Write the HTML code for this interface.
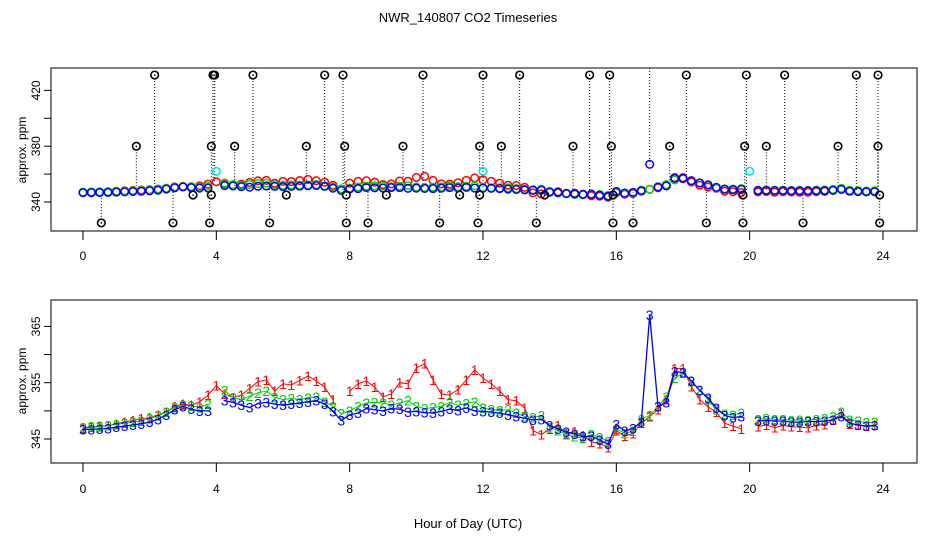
<!DOCTYPE html>
<html><head><meta charset="utf-8"><style>
body{margin:0;background:#fff}
svg{display:block;font-family:"Liberation Sans",sans-serif}
</style></head><body>
<svg id="c" width="936" height="540" viewBox="0 0 936 540">
<text x="468" y="22" text-anchor="middle" font-size="13">NWR_140807  CO2 Timeseries</text>
<text x="468" y="528" text-anchor="middle" font-size="13">Hour of Day (UTC)</text>
</svg>
<script>
const hourStep = 0.25;
const series1 = [346.9,347.1,347.2,347.4,347.7,348.0,348.3,348.6,348.8,349.3,349.8,350.8,351.2,351.0,351.6,352.8,354.5,353.0,352.4,352.8,354.0,355.2,355.5,353.5,354.8,354.6,355.4,356.2,355.3,354.2,352.0,null,353.5,354.8,355.3,354.2,352.5,353.0,355.0,354.8,357.6,358.4,355.5,353.0,352.8,353.8,355.5,357.3,355.8,354.8,353.5,352.0,351.8,350.5,346.5,345.8,346.8,347.4,346.0,346.3,345.6,344.5,344.2,343.5,346.5,345.5,346.0,347.8,349.0,350.2,352.0,357.5,357.5,354.3,352.0,350.7,349.8,347.8,347.3,346.8,null,347.2,347.5,347.0,347.4,347.2,347.1,347.0,347.4,347.6,348.4,349.5,347.7,347.5,347.3,347.5];
const series2 = [347.0,347.2,347.3,347.4,347.6,347.8,348.0,348.2,348.6,349.2,349.8,350.6,351.0,350.9,350.6,351.2,null,353.6,352.4,352.0,352.6,353.2,353.5,352.4,352.0,352.2,352.0,352.3,352.5,351.6,350.8,349.5,350.0,350.8,351.4,351.5,351.4,351.0,351.4,351.8,350.8,350.4,350.6,350.8,351.5,351.0,351.3,351.6,350.5,350.2,350.1,350.2,349.6,349.0,348.8,349.2,347.0,346.5,345.8,345.4,345.2,345.8,345.3,344.6,346.8,346.0,346.4,348.5,349.2,350.8,352.5,355.8,356.7,355.2,353.7,352.0,350.2,349.4,349.3,349.6,null,348.5,348.6,348.5,348.5,348.3,348.4,348.3,348.5,348.6,349.0,349.8,348.4,348.2,347.9,348.0];
const series3 = [346.7,346.7,346.8,346.9,347.1,347.3,347.5,347.7,348.0,348.5,349.3,350.2,350.8,350.3,350.0,350.0,null,351.8,351.5,351.0,350.6,351.3,351.5,351.2,351.0,351.2,351.4,351.6,351.8,351.2,349.9,348.3,349.3,349.6,350.4,350.2,350.0,350.4,350.3,349.8,349.9,349.7,349.6,349.9,350.3,350.1,350.5,350.0,349.9,349.8,349.6,349.3,349.0,348.7,348.4,348.5,347.4,346.8,346.2,345.9,345.4,345.5,344.8,344.1,347.6,346.4,346.9,348.0,367.0,350.8,351.5,357.0,356.8,355.3,353.6,352.3,350.5,349.2,348.8,349.0,null,348.2,348.3,348.2,348.2,348.0,348.0,348.1,348.1,348.2,348.4,349.0,347.8,347.5,347.3,347.4];
const outlierHighHours = [2.15,3.9,3.95,5.1,7.25,7.8,10.2,12,13.1,15.2,15.8,18.1,19.9,21.05,23.2,23.85];
const outlierMidHours = [1.6,3.85,4.55,6.7,7.85,9.6,11.9,12.55,14.7,15.85,17.6,19.85,20.5,22.65,23.85];
const outlierLowHours = [0.55,2.7,3.8,5.6,7.9,8.55,10.7,11.85,13.6,15.9,16.5,18.7,19.8,21.6,23.9];
const nearHours = [3.3,3.85,6.1,7.9,9.1,11.3,11.9,13.85,15.9,19.8,23.9];
const outlierHighValue = 431, outlierMidValue = 380, outlierLowValue = 325, nearValue = 345;
const cyanHours = [4.0,12.0,20.0];
const cyanValues = [362,362,362];
const xTicks = [0,4,8,12,16,20,24];
const topYTicks = [340,360,380,400,420];
const topYLabels = [340,380,420];
const botYTicks = [345,350,355,360,365];
const botYLabels = [345,355,365];

const NS="http://www.w3.org/2000/svg";
const svg=document.getElementById('c');
function mk(tag,attrs,parent){const e=document.createElementNS(NS,tag);for(const k in attrs)e.setAttribute(k,attrs[k]);(parent||svg).appendChild(e);return e;}
const xs=h=>83+h*(800/24);
const yTop=v=>202-(v-340)*1.395;
const yBot=v=>439-(v-345)*5.63;

function box(y0,y1,name){
  const r=mk('rect',{x:51,y:y0,width:866,height:y1-y0,fill:'none',stroke:'#000','stroke-width':1});
  
  
}
function xAxis(yb,ly,name){
  const g=mk('g',{});
  
  
  xTicks.forEach(t=>{
    mk('line',{x1:xs(t),x2:xs(t),y1:yb,y2:yb+9,stroke:'#000'},g);
    const tx=mk('text',{x:xs(t),y:ly,'text-anchor':'middle','font-size':12},g);
    tx.textContent=t;
  });
}
function yAxis(ticks,labels,yf,name,title,cy){
  const g=mk('g',{});
  
  
  ticks.forEach(t=>mk('line',{x1:44,x2:51,y1:yf(t),y2:yf(t),stroke:'#000'},g));
  labels.forEach(t=>{
    const tx=mk('text',{x:0,y:0,'text-anchor':'middle','font-size':12,transform:`translate(40,${yf(t)}) rotate(-90)`},g);
    tx.textContent=t;
  });
  const tt=mk('text',{x:0,y:0,'text-anchor':'middle','font-size':12,transform:`translate(26,${cy}) rotate(-90)`});
  
  
  tt.textContent=title;
}
box(68,231,'top-plot-frame');
box(300,463,'bottom-plot-frame');
xAxis(231,260,'top-x-axis');
xAxis(463,493,'bottom-x-axis');
yAxis(topYTicks,topYLabels,yTop,'top-y-axis','approx. ppm',150);
yAxis(botYTicks,botYLabels,yBot,'bottom-y-axis','approx. ppm',381);

function baseAt(h){const i=Math.round(h/hourStep);const v=series3[i]??series2[i]??series1[i];return v==null?345:v;}

const gTop=mk('g',{});


function blackPt(h,v){
  mk('line',{x1:xs(h),x2:xs(h),y1:yTop(v),y2:yTop(baseAt(h)),stroke:'#000','stroke-width':1,'stroke-dasharray':'1,2'},gTop);
}
outlierHighHours.forEach(h=>blackPt(h,outlierHighValue));
outlierMidHours.forEach(h=>blackPt(h,outlierMidValue));
outlierLowHours.forEach(h=>blackPt(h,outlierLowValue));
mk('line',{x1:xs(17),x2:xs(17),y1:68,y2:yTop(367),stroke:'#000','stroke-dasharray':'1,2'},gTop);
[[series1,'#ff0000'],[series2,'#00dd00'],[series3,'#0000ff']].forEach(([s,c],k)=>{
  s.forEach((v,i)=>{ if(v==null)return;
    const e=mk('circle',{cx:xs(i*hourStep),cy:yTop(v),r:3.8,fill:'none',stroke:c,'stroke-width':1.5},gTop);
    
    
  });
});
function dotCircle(h,v,c){
  const e=mk('circle',{cx:xs(h),cy:yTop(v),r:3.8,fill:'none',stroke:c,'stroke-width':1.6},gTop);
  
  
  mk('circle',{cx:xs(h),cy:yTop(v),r:0.8,fill:c},gTop);
}
outlierHighHours.forEach(h=>dotCircle(h,outlierHighValue,'#000'));
outlierMidHours.forEach(h=>dotCircle(h,outlierMidValue,'#000'));
outlierLowHours.forEach(h=>dotCircle(h,outlierLowValue,'#000'));
nearHours.forEach(h=>dotCircle(h,nearValue,'#000'));
cyanHours.forEach((h,i)=>{
  const e=mk('circle',{cx:xs(h),cy:yTop(cyanValues[i]),r:3.8,fill:'none',stroke:'#00e5e5','stroke-width':1.6},gTop);
  
  
});

[[series1,'#ff0000','1'],[series2,'#00cc00','2'],[series3,'#0000ff','3']].forEach(([s,c,ch],k)=>{
  const g=mk('g',{});
  
  
  let d='';let pen=false;
  s.forEach((v,i)=>{ if(v==null){pen=false;return;}
    d+=(pen?'L':'M')+xs(i*hourStep).toFixed(1)+','+yBot(v).toFixed(1);pen=true;});
  mk('path',{d:d,fill:'none',stroke:c,'stroke-width':k==2?1.3:1},g);
  s.forEach((v,i)=>{ if(v==null)return;
    const t=mk('text',{x:xs(i*hourStep),y:yBot(v)+5,'text-anchor':'middle','font-size':14,fill:c},g);
    t.textContent=ch;
  });
});
</script>
</body></html>
